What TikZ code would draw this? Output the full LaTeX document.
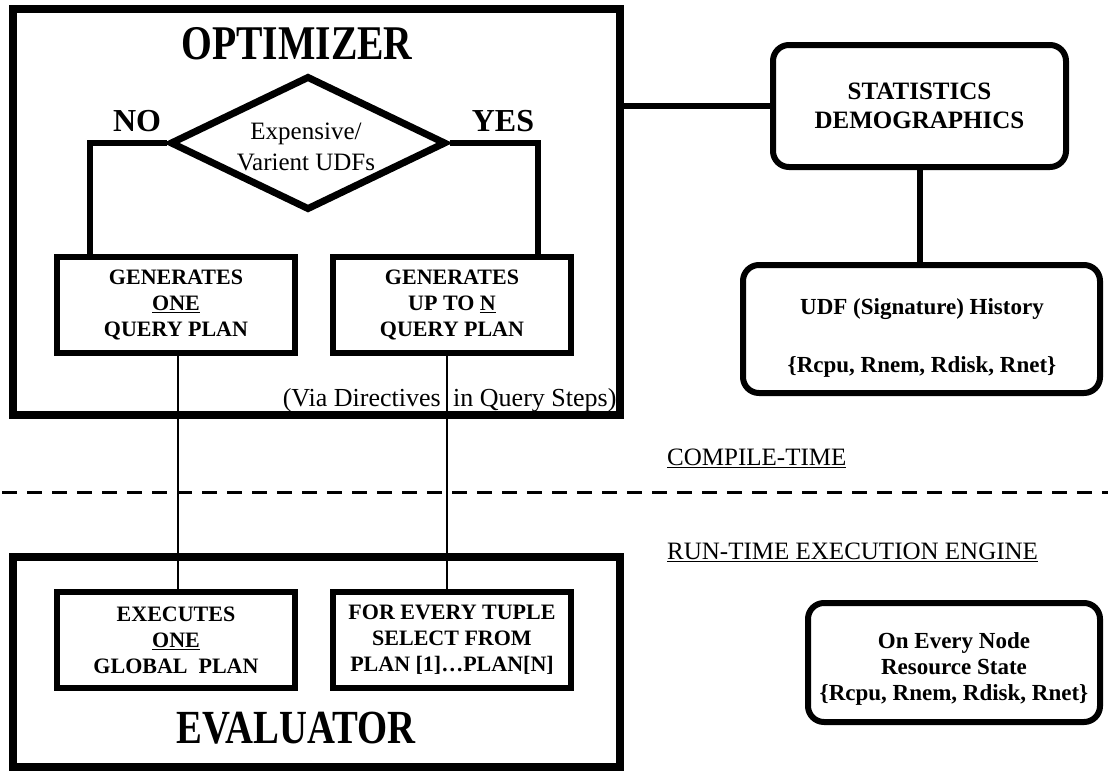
\documentclass[tikz,border=0pt]{standalone}
\usepackage{fontspec}
\setmainfont{Liberation Serif}
\usetikzlibrary{shapes.geometric,calc}
\begin{document}
\begin{tikzpicture}[x=1pt,y=-1pt,
  frame/.style={draw, line width=8pt, inner sep=0pt},
  planbox/.style={draw, line width=6pt, align=center, inner sep=0pt,
    minimum width=238pt, minimum height=96pt,
    font=\bfseries\fontsize{22}{26}\selectfont},
  roundbox/.style={draw, line width=6pt, rounded corners=16pt, inner sep=0pt},
  heavy/.style={line width=6pt},
  wire/.style={line width=1.8pt},
  title/.style={inner sep=0pt, font=\bfseries\fontsize{44}{50}\selectfont},
  yn/.style={inner sep=0pt, font=\bfseries\fontsize{32}{36}\selectfont},
  regtext/.style={inner sep=0pt, align=center, font=\fontsize{25}{31}\selectfont},
  viatext/.style={inner sep=0pt, font=\fontsize{26}{30}\selectfont},
  boldtext/.style={inner sep=0pt, align=center, font=\bfseries\fontsize{23}{26}\selectfont},
  phase/.style={inner sep=0pt, anchor=west, font=\fontsize{25}{30}\selectfont}
]
\useasboundingbox (0,0) rectangle (1108,771);

% optimizer
\node[frame, minimum width=607pt, minimum height=406pt] (opt) at (316.5,212) {};
\node[title] (optt) at (297,44) {\scalebox{0.9}[1.1]{OPTIMIZER}};
\node[diamond, draw, line width=7pt, minimum width=276pt, minimum height=134pt, inner sep=0pt] (dia) at (308,143) {};
\node[regtext] (diat) at (306,147) {Expensive/\\Varient UDFs};
\node[yn] (no) at (137,121) {NO};
\node[yn] (yes) at (503,121) {YES};
\node[planbox] (gen1) at (176,305) {GENERATES\\\underline{ONE}\\QUERY PLAN};
\node[planbox] (gen2) at (452,305) {GENERATES\\UP TO \underline{N}\\QUERY PLAN};
\node[viatext, anchor=east] (via1) at (441,400) {(Via Directives};
\node[viatext, anchor=west] (via2) at (453,400) {in Query Steps)};

\coordinate (noc) at (90,143);
\coordinate (yesc) at (538,143);
\draw[heavy] (dia.west) -- (noc) -- (noc |- gen1.north);
\draw[heavy] (dia.east) -- (yesc) -- (yesc |- gen2.north);

% statistics
\node[roundbox, minimum width=293pt, minimum height=122pt, align=center,
  font=\bfseries\fontsize{25}{29}\selectfont] (stats) at (919.5,106) {STATISTICS\\DEMOGRAPHICS};
\draw[heavy] (opt.east |- stats.west) -- (stats.west);
\node[roundbox, minimum width=357pt, minimum height=128pt] (udf) at (921.5,329) {};
\node[boldtext] (udf1) at (922,309) {UDF (Signature) History};
\node[boldtext] (udf2) at (922,367) {\{Rcpu, Rnem, Rdisk, Rnet\}};
\draw[heavy] (stats.south) -- (stats.south |- udf.north);

% phases
\coordinate (dl) at (2,492);
\coordinate (dr) at (1108,492);
\draw[line width=3pt, dash pattern=on 15pt off 10pt] (dl) -- (dr);
\node[phase] (ct) at (667,458) {\underline{COMPILE-TIME}};
\node[phase] (rt) at (667,552) {\underline{RUN-TIME EXECUTION ENGINE}};

% evaluator
\node[frame, minimum width=607pt, minimum height=210pt] (eval) at (316.5,662) {};
\node[title] (evalt) at (296,728) {\scalebox{0.88}[1.08]{EVALUATOR}};
\node[planbox] (exe1) at (176,640) {EXECUTES\\\underline{ONE}\\GLOBAL\ \ PLAN};
\node[planbox] (exe2) at (452,640) {FOR EVERY TUPLE\\SELECT FROM\\PLAN [1]…PLAN[N]};

\draw[wire] ($(gen1.south)+(2,0)$) -- ($(exe1.north)+(2,0)$);
\draw[wire] ($(gen2.south)+(-5,0)$) -- ($(exe2.north)+(-5,0)$);

% resource state
\node[roundbox, minimum width=292pt, minimum height=119pt] (res) at (954,662.5) {};
\node[boldtext] (rest) at (954,669) {On Every Node\\Resource State\\\{Rcpu, Rnem, Rdisk, Rnet\}};
\end{tikzpicture}
\end{document}
